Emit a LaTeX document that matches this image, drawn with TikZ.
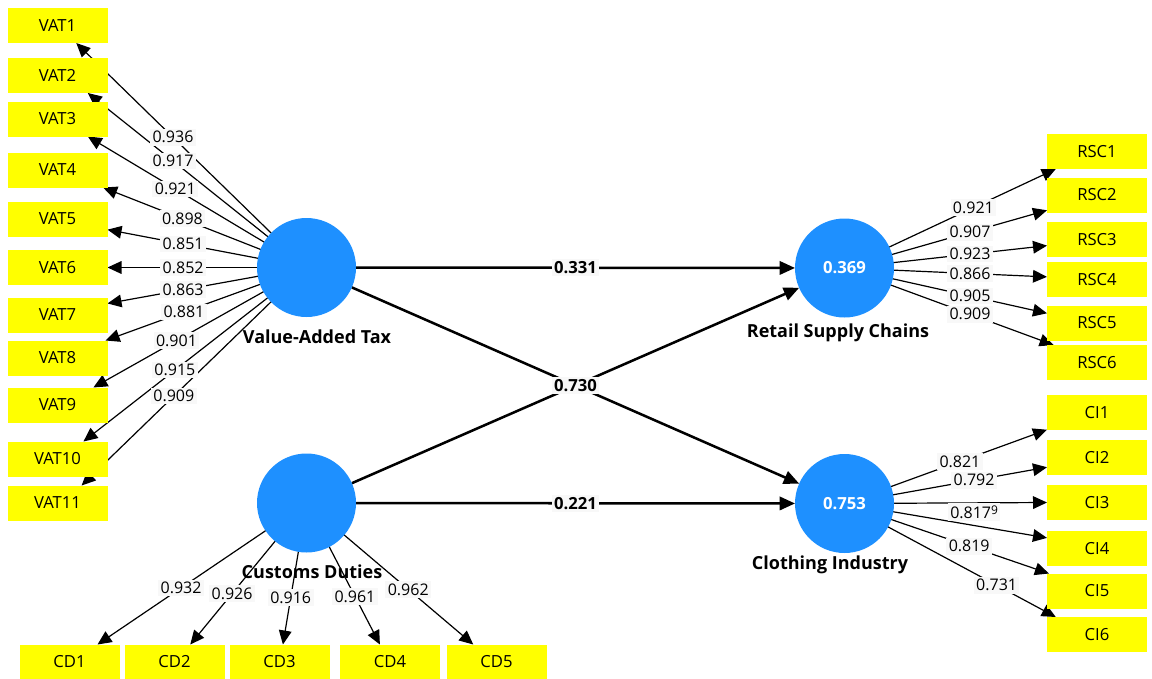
\documentclass[tikz,border=0pt]{standalone}
\usepackage{fontspec}
\setmainfont{Open Sans}
\usetikzlibrary{arrows.meta}
\definecolor{lvblue}{RGB}{30,144,255}
\definecolor{mvyellow}{RGB}{255,255,0}
\definecolor{labgray}{RGB}{248,248,248}
\pgfdeclarelayer{edges}
\pgfsetlayers{edges,main}
\tikzset{
latent/.style={circle,fill=lvblue,minimum size=74.25pt,inner sep=0pt,outer sep=0pt,text=white,font=\bfseries\fontsize{12.5}{14}\selectfont},
indicator/.style={rectangle,fill=mvyellow,minimum width=75pt,minimum height=26.25pt,inner sep=0pt,outer sep=0pt,font=\fontsize{12.5}{14}\selectfont},
lvname/.style={inner sep=0pt,font=\bfseries\fontsize{13.5}{15}\selectfont},
load/.style={line width=0.9pt,-{Triangle[length=10.5pt,width=9.5pt]}},
inner/.style={line width=1.9pt,-{Triangle[length=11.5pt,width=10pt]}},
lab/.style={fill=labgray,inner sep=1.8pt,font=\fontsize{12}{14}\selectfont},
plab/.style={fill=labgray,inner sep=1.8pt,font=\bfseries\fontsize{12.5}{14}\selectfont}}

\begin{document}
\begin{tikzpicture}[x=0.75pt,y=0.75pt,yscale=-1,xscale=1]
\useasboundingbox (0,0) rectangle (1152,678);

%Latent: circles
\node[latent] (vat) at (306.5,267.5) {};
\node[latent] (cd) at (306.5,503) {};
\node[latent] (rsc) at (844.5,268) {0.369};
\node[latent] (ci) at (844.5,503.5) {0.753};
\node[lvname] (vatname) at (317,337) {Value-Added Tax};
\node[lvname] (cdname) at (312,572) {Customs Duties};
\node[lvname] (rscname) at (838,333) {Retail Supply Chains};
\node[lvname] (ciname) at (830,565) {Clothing Industry};

%Indicators: Value-Added Tax
\node[indicator] (vat1) at (57.5,25.5) {VAT1};
\node[indicator] (vat2) at (57.5,75.5) {VAT2};
\node[indicator] (vat3) at (57.5,119) {VAT3};
\node[indicator] (vat4) at (57.5,170) {VAT4};
\node[indicator] (vat5) at (57.5,219) {VAT5};
\node[indicator] (vat6) at (57.5,267.5) {VAT6};
\node[indicator] (vat7) at (57.5,315) {VAT7};
\node[indicator] (vat8) at (57.5,358) {VAT8};
\node[indicator] (vat9) at (57.5,405) {VAT9};
\node[indicator] (vat10) at (57.5,459) {VAT10};
\node[indicator] (vat11) at (57.5,503) {VAT11};
%Indicators: Customs Duties
\node[indicator] (cd1) at (69.5,662) {CD1};
\node[indicator] (cd2) at (174.5,662) {CD2};
\node[indicator] (cd3) at (279.5,662) {CD3};
\node[indicator] (cd4) at (390,662) {CD4};
\node[indicator] (cd5) at (496.5,662) {CD5};
%Indicators: Retail Supply Chains
\node[indicator] (rsc1) at (1097,151.5) {RSC1};
\node[indicator] (rsc2) at (1097,195) {RSC2};
\node[indicator] (rsc3) at (1097,239.5) {RSC3};
\node[indicator] (rsc4) at (1097,279.5) {RSC4};
\node[indicator] (rsc5) at (1097,323) {RSC5};
\node[indicator] (rsc6) at (1097,362.5) {RSC6};
%Indicators: Clothing Industry
\node[indicator] (ci1) at (1097,412.5) {CI1};
\node[indicator] (ci2) at (1097,457.5) {CI2};
\node[indicator] (ci3) at (1097,502.5) {CI3};
\node[indicator] (ci4) at (1097,548.5) {CI4};
\node[indicator] (ci5) at (1097,591) {CI5};
\node[indicator] (ci6) at (1097,634.5) {CI6};

\begin{pgfonlayer}{edges}
%Loadings: Value-Added Tax
\draw[load] (vat.center) -- coordinate[pos=.58] (lv1) (vat1.-43);
\draw[load] (vat.center) -- coordinate[pos=.61] (lv2) (vat2.-30);
\draw[load] (vat.center) -- coordinate[pos=.60] (lv3) (vat3.-30);
\draw[load] (vat.center) -- coordinate[pos=.61] (lv4) (vat4.-21);
\draw[load] (vat.center) -- coordinate[pos=.62] (lv5) (vat5.-12);
\draw[load] (vat.center) -- coordinate[pos=.62] (lv6) (vat6.east);
\draw[load] (vat.center) -- coordinate[pos=.62] (lv7) (vat7.13);
\draw[load] (vat.center) -- coordinate[pos=.61] (lv8) (vat8.20);
\draw[load] (vat.center) -- coordinate[pos=.61] (lv9) (vat9.26);
\draw[load] (vat.center) -- coordinate[pos=.59] (lv10) (vat10.34);
\draw[load] (vat.center) -- coordinate[pos=.59] (lv11) (vat11.36);
%Loadings: Customs Duties
\draw[load] (cd.center) -- coordinate[pos=.60] (lc1) (cd1.32);
\draw[load] (cd.center) -- coordinate[pos=.64] (lc2) (cd2.48);
\draw[load] (cd.center) -- coordinate[pos=.67] (lc3) (cd3.79);
\draw[load] (cd.center) -- coordinate[pos=.66] (lc4) (cd4.120);
\draw[load] (cd.center) -- coordinate[pos=.61] (lc5) (cd5.143);
%Loadings: Retail Supply Chains
\draw[load] (rsc.center) -- coordinate[pos=.61] (lr1) (rsc1.203);
\draw[load] (rsc.center) -- coordinate[pos=.62] (lr2) (rsc2.197);
\draw[load] (rsc.center) -- coordinate[pos=.62] (lr3) (rsc3.187);
\draw[load] (rsc.center) -- coordinate[pos=.62] (lr4) (rsc4.177);
\draw[load] (rsc.center) -- coordinate[pos=.62] (lr5) (rsc5.169);
\draw[load] (rsc.center) -- coordinate[pos=.60] (lr6) (rsc6.158);
%Loadings: Clothing Industry
\draw[load] (ci.center) -- coordinate[pos=.57] (lk1) (ci1.199);
\draw[load] (ci.center) -- coordinate[pos=.64] (lk2) (ci2.191);
\draw[load] (ci.center) -- coordinate[pos=.64] (lk3) (ci3.west);
\draw[load] (ci.center) -- (ci4.168);
\draw[load] (ci.center) -- coordinate[pos=.61] (lk5) (ci5.160);
\draw[load] (ci.center) -- coordinate[pos=.72] (lk6) (ci6.157);
%Paths
\draw[inner] (vat) -- coordinate[midway] (p1) (rsc);
\draw[inner] (vat) -- coordinate[midway] (p2) (ci);
\draw[inner] (cd) -- (rsc);
\draw[inner] (cd) -- coordinate[midway] (p3) (ci);
\end{pgfonlayer}

%Labels
\node[lab] at (lv1) {0.936};
\node[lab] at (lv2) {0.917};
\node[lab] at (lv3) {0.921};
\node[lab] at (lv4) {0.898};
\node[lab] at (lv5) {0.851};
\node[lab] at (lv6) {0.852};
\node[lab] at (lv7) {0.863};
\node[lab] at (lv8) {0.881};
\node[lab] at (lv9) {0.901};
\node[lab] at (lv10) {0.915};
\node[lab] at (lv11) {0.909};
\node[lab] at (lc1) {0.932};
\node[lab] at (lc2) {0.926};
\node[lab] at (lc3) {0.916};
\node[lab] at (lc4) {0.961};
\node[lab] at (lc5) {0.962};
\node[lab] at (lr1) {0.921};
\node[lab] at (lr2) {0.907};
\node[lab] at (lr3) {0.923};
\node[lab] at (lr4) {0.866};
\node[lab] at (lr5) {0.905};
\node[lab] at (lr6) {0.909};
\node[lab] at (lk1) {0.821};
\node[lab] at (lk2) {0.792};
\node[lab,below] at (lk3) {0.817\raisebox{3pt}{\fontsize{9}{9}\selectfont 9}};
\node[lab] at (lk5) {0.819};
\node[lab] at (lk6) {0.731};
\node[plab] at (p1) {0.331};
\node[plab] at (p2) {0.730};
\node[plab] at (p3) {0.221};

\end{tikzpicture}
\end{document}
